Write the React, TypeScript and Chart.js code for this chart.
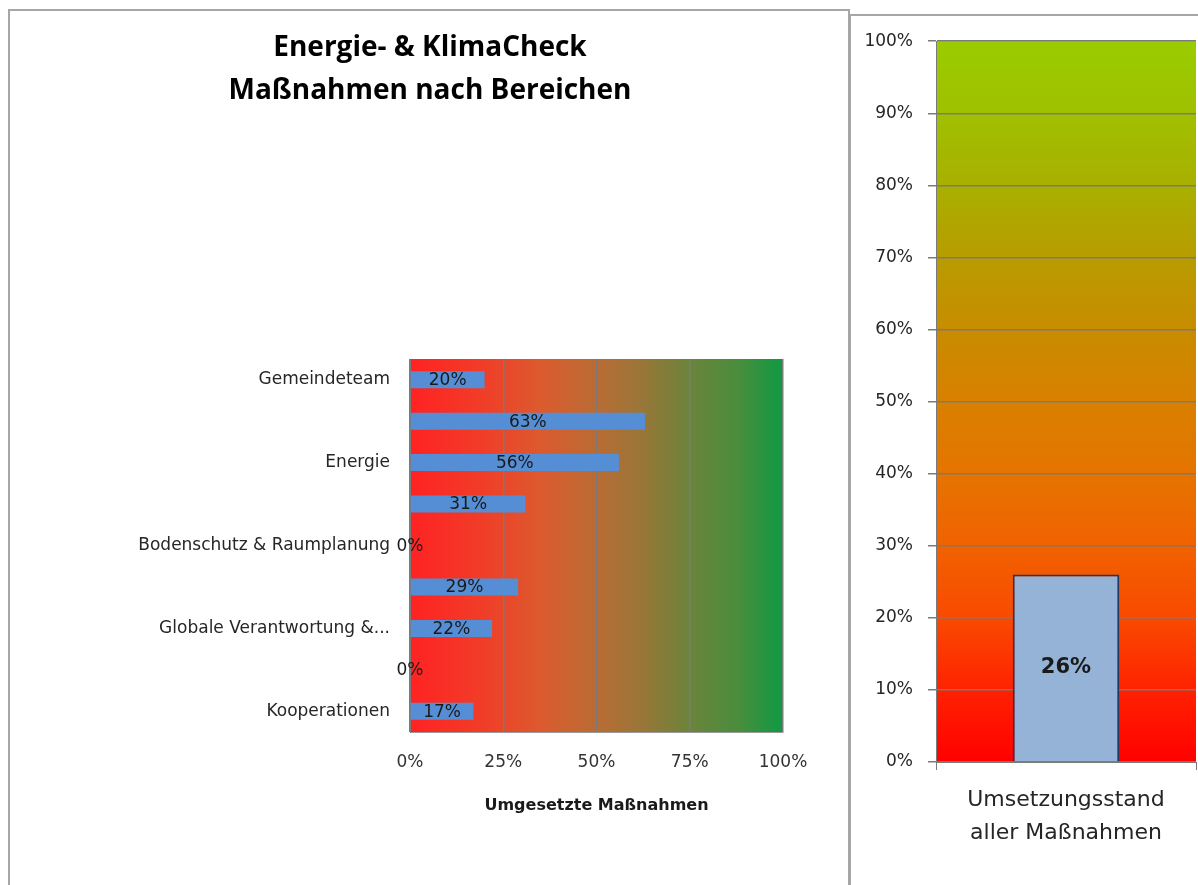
import React, { useEffect, useRef } from 'react';
import { Chart, registerables } from 'chart.js';

Chart.register(...registerables);

const titleLines = ['Energie- & KlimaCheck', 'Maßnahmen nach Bereichen'];
const categories = ['Gemeindeteam', '', 'Energie', '', 'Bodenschutz & Raumplanung', '', 'Globale Verantwortung &...', '', 'Kooperationen'];
const shares = [20, 63, 56, 31, 0, 29, 22, 0, 17];
const xAxisTitle = 'Umgesetzte Maßnahmen';
const overallCategory = [['Umsetzungsstand', 'aller Maßnahmen']];
const overallShare = [26];

const FONT = 'DejaVu Sans';

const leftBg = {
  id: 'leftBg',
  beforeDraw(chart: any) {
    const { ctx, chartArea: a } = chart;
    const g = ctx.createLinearGradient(a.left, 0, a.right, 0);
    g.addColorStop(0, '#ff2222');
    g.addColorStop(0.2, '#f03e28');
    g.addColorStop(0.35, '#dc5a2e');
    g.addColorStop(0.5, '#b96c34');
    g.addColorStop(0.62, '#9a7638');
    g.addColorStop(0.75, '#6b843b');
    g.addColorStop(0.88, '#4a8d3d');
    g.addColorStop(1, '#0f9a42');
    ctx.save();
    ctx.fillStyle = g;
    ctx.fillRect(a.left, a.top, a.right - a.left, a.bottom - a.top);
    ctx.restore();
  },
};

const rightBg = {
  id: 'rightBg',
  beforeDraw(chart: any) {
    const { ctx, chartArea: a } = chart;
    const g = ctx.createLinearGradient(0, a.bottom, 0, a.top);
    g.addColorStop(0, '#ff0000');
    g.addColorStop(0.1, '#ff2200');
    g.addColorStop(0.2, '#f94a00');
    g.addColorStop(0.3, '#f16200');
    g.addColorStop(0.4, '#e57400');
    g.addColorStop(0.5, '#d98000');
    g.addColorStop(0.6, '#c88c00');
    g.addColorStop(0.7, '#b89c00');
    g.addColorStop(0.8, '#a8b000');
    g.addColorStop(0.9, '#a0c000');
    g.addColorStop(1, '#99cc00');
    ctx.save();
    ctx.fillStyle = g;
    ctx.fillRect(a.left, a.top, a.right - a.left, a.bottom - a.top);
    ctx.restore();
  },
};

const hLabels = {
  id: 'hLabels',
  afterDatasetsDraw(chart: any) {
    const { ctx } = chart;
    const meta = chart.getDatasetMeta(0);
    const data = chart.data.datasets[0].data;
    ctx.save();
    ctx.font = `17px "${FONT}"`;
    ctx.fillStyle = '#1a1a1a';
    ctx.textAlign = 'center';
    ctx.textBaseline = 'middle';
    meta.data.forEach((el: any, i: number) => {
      const cx = (el.x + el.base) / 2;
      ctx.fillText(`${data[i]}%`, cx, el.y + 1);
    });
    ctx.restore();
  },
};

const vLabels = {
  id: 'vLabels',
  afterDatasetsDraw(chart: any) {
    const { ctx } = chart;
    const meta = chart.getDatasetMeta(0);
    const data = chart.data.datasets[0].data;
    ctx.save();
    ctx.font = `bold 21px "${FONT}"`;
    ctx.fillStyle = '#1a1a1a';
    ctx.textAlign = 'center';
    ctx.textBaseline = 'middle';
    meta.data.forEach((el: any, i: number) => {
      const cy = (el.y + el.base) / 2;
      ctx.fillText(`${data[i]}%`, el.x, cy);
    });
    ctx.restore();
  },
};

function LeftChart() {
  const ref = useRef<HTMLCanvasElement>(null);
  useEffect(() => {
    const chart = new Chart(ref.current!, {
      type: 'bar',
      data: {
        labels: categories,
        datasets: [{
          data: shares,
          backgroundColor: '#558ed5',
          borderWidth: 0,
          categoryPercentage: 1,
          barPercentage: 0.41,
        }],
      },
      options: {
        indexAxis: 'y',
        responsive: false,
        animation: false,
        devicePixelRatio: 1,
        layout: { padding: { left: 67, right: 65, top: 0, bottom: 63 } },
        plugins: {
          legend: { display: false },
          tooltip: { enabled: false },
          title: {
            display: true,
            text: titleLines,
            color: '#000000',
            font: { family: 'Open Sans', weight: 'bold', size: 28, lineHeight: 43 / 28 },
            padding: { top: 15.5, bottom: 246.5 },
          },
        },
        scales: {
          x: {
            min: 0,
            max: 100,
            ticks: {
              stepSize: 25,
              padding: 20,
              color: '#333333',
              font: { family: FONT, size: 17 },
              callback: (v: any) => `${v}%`,
            },
            grid: { color: '#7a7a7a', lineWidth: 1.5, drawTicks: false },
            border: { display: true, color: '#9a9a9a' },
            title: {
              display: true,
              text: xAxisTitle,
              color: '#1a1a1a',
              font: { family: FONT, weight: 'bold', size: 16 },
              padding: { top: 0, bottom: 7 },
            },
            afterFit: (s: any) => { s.width = s.width; s.height = 90; },
          },
          y: {
            ticks: {
              padding: 20,
              color: '#262626',
              autoSkip: false,
              font: { family: FONT, size: 17 },
            },
            grid: { display: false, drawTicks: false },
            border: { display: true, color: '#7a7a7a' },
            afterFit: (s: any) => { s.width = 333; },
          },
        },
      },
      plugins: [leftBg, hLabels],
    } as any);
    return () => chart.destroy();
  }, []);
  return <canvas ref={ref} width={838} height={874} style={{ display: 'block' }} />;
}

function RightChart() {
  const ref = useRef<HTMLCanvasElement>(null);
  useEffect(() => {
    const chart = new Chart(ref.current!, {
      type: 'bar',
      data: {
        labels: overallCategory,
        datasets: [{
          data: overallShare,
          backgroundColor: '#95b3d7',
          borderColor: '#1f3864',
          borderWidth: 2,
          categoryPercentage: 1,
          barPercentage: 0.41,
        }],
      },
      options: {
        responsive: false,
        animation: false,
        devicePixelRatio: 1,
        layout: { padding: { left: 0, right: 2, top: 24, bottom: 0 } },
        plugins: {
          legend: { display: false },
          tooltip: { enabled: false },
        },
        scales: {
          x: {
            ticks: {
              padding: 13.5,
              color: '#262626',
              font: { family: FONT, size: 22, lineHeight: 1.5 },
            },
            grid: { drawOnChartArea: false, drawTicks: true, tickLength: 8, color: '#7a7a7a', offset: true },
            border: { display: true, color: '#7a7a7a' },
            afterFit: (s: any) => { s.height = 123; },
          },
          y: {
            min: 0,
            max: 100,
            ticks: {
              stepSize: 10,
              padding: 15,
              color: '#262626',
              font: { family: FONT, size: 17 },
              callback: (v: any) => `${v}%`,
            },
            grid: { color: '#7a7a7a', lineWidth: 1.5, drawTicks: true, tickLength: 8 },
            border: { display: true, color: '#7a7a7a' },
            afterFit: (s: any) => { s.width = 85; },
          },
        },
      },
      plugins: [rightBg, vLabels],
    } as any);
    return () => chart.destroy();
  }, []);
  return <canvas ref={ref} width={347} height={869} style={{ display: 'block' }} />;
}

export default function App() {
  return (
    <div style={{ position: 'absolute', left: 0, top: 0, width: 1198, height: 885, overflow: 'hidden', background: '#ffffff' }}>
      <div style={{ position: 'absolute', left: 8, top: 9, width: 842, height: 920, border: '2px solid #a6a6a6', boxSizing: 'border-box' }} />
      <div style={{ position: 'absolute', left: 849, top: 14, width: 420, height: 920, borderTop: '2px solid #a6a6a6', borderLeft: '2px solid #a6a6a6', boxSizing: 'border-box' }} />
      <div style={{ position: 'absolute', left: 10, top: 11 }}>
        <LeftChart />
      </div>
      <div style={{ position: 'absolute', left: 851, top: 16 }}>
        <RightChart />
      </div>
    </div>
  );
}
